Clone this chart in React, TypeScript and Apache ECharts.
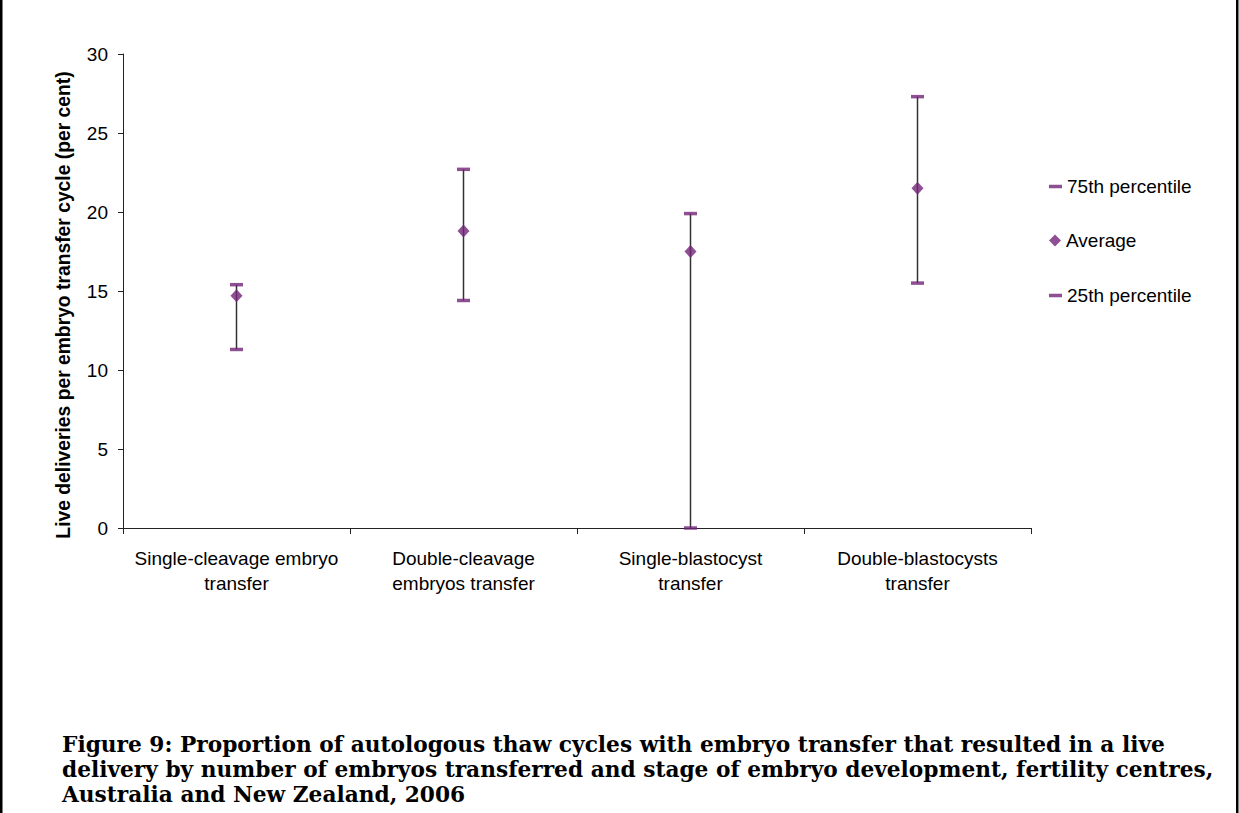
import React, { useEffect, useRef } from "react";
import * as echarts from "echarts";

const categories = [
  "Single-cleavage embryo\ntransfer",
  "Double-cleavage\nembryos transfer",
  "Single-blastocyst\ntransfer",
  "Double-blastocysts\ntransfer",
];
const p75 = [15.4, 22.7, 19.9, 27.3];
const average = [14.7, 18.8, 17.5, 21.5];
const p25 = [11.3, 14.4, 0.0, 15.5];
const yTicks = { min: 0, max: 30, interval: 5 };
const yAxisName = "Live deliveries per embryo transfer cycle (per cent)";

const titleLines = [
  "Figure 9: Proportion of autologous thaw cycles with embryo transfer that resulted in a live",
  "delivery by number of embryos transferred and stage of embryo development, fertility centres,",
  "Australia and New Zealand, 2006",
];

const PURPLE = "#722478";
const SANS = "'Liberation Sans', Arial, sans-serif";
const SERIF = "'DejaVu Serif', serif";

export default function App() {
  const ref = useRef<HTMLDivElement>(null);
  useEffect(() => {
    if (!ref.current) return;
    const chart = echarts.init(ref.current, null, { renderer: "svg" });
    const legendText = { fontFamily: SANS, fontSize: 19, color: "#000" };
    chart.setOption({
      animation: false,
      backgroundColor: "#fff",
      grid: { left: 123, right: 208, top: 54, bottom: 813 - 528, containLabel: false },
      title: {
        text: titleLines.join("\n"),
        left: 62,
        top: 732,
        padding: 0,
        textStyle: { fontFamily: SERIF, fontWeight: "bold", fontSize: 21.7, lineHeight: 25, color: "#000" },
      },
      legend: [
        {
          data: ["75th percentile"], left: 1049, top: 177, icon: "rect", padding: 0,
          itemWidth: 13, itemHeight: 3.5, textStyle: legendText, selectedMode: false,
        },
        {
          data: ["Average"], left: 1049, top: 231, icon: "diamond", padding: 0,
          itemWidth: 12, itemHeight: 12, textStyle: legendText, selectedMode: false,
        },
        {
          data: ["25th percentile"], left: 1049, top: 286, icon: "rect", padding: 0,
          itemWidth: 13, itemHeight: 3.5, textStyle: legendText, selectedMode: false,
        },
      ],
      xAxis: {
        type: "category",
        data: categories,
        boundaryGap: true,
        axisLine: { lineStyle: { color: "#222", width: 1 } },
        axisTick: { show: true, length: 6, lineStyle: { color: "#222" } },
        axisLabel: { fontFamily: SANS, fontSize: 19, color: "#000", lineHeight: 25, margin: 18, interval: 0 },
      },
      yAxis: {
        type: "value",
        min: yTicks.min,
        max: yTicks.max,
        interval: yTicks.interval,
        axisLine: { show: true, lineStyle: { color: "#222", width: 1 } },
        axisTick: { show: true, length: 5, lineStyle: { color: "#222" } },
        splitLine: { show: false },
        axisLabel: { fontFamily: SANS, fontSize: 19, color: "#000", margin: 15 },
      },
      graphic: [
        { type: "rect", shape: { x: 0, y: 0, width: 2.5, height: 813 }, style: { fill: "#000" } },
        { type: "rect", shape: { x: 1236, y: 0, width: 2.5, height: 813 }, style: { fill: "#000" } },
        {
          type: "text",
          x: 63,
          y: 305,
          rotation: Math.PI / 2,
          style: {
            text: yAxisName,
            fontFamily: SANS,
            fontSize: 19.3,
            fontWeight: "bold",
            fill: "#000",
            align: "center",
            verticalAlign: "middle",
          },
        },
      ],
      series: [
        {
          type: "custom",
          name: "range",
          z: 1,
          encode: { x: 0, y: [1, 2] },
          data: categories.map((_, i) => [i, p25[i], p75[i]]),
          renderItem: (params: any, api: any) => {
            const i = api.value(0);
            const lo = api.coord([i, api.value(1)]);
            const hi = api.coord([i, api.value(2)]);
            return {
              type: "line",
              shape: { x1: lo[0], y1: lo[1], x2: hi[0], y2: hi[1] },
              style: { stroke: "#333", lineWidth: 1.5 },
            };
          },
        },
        {
          type: "scatter", name: "75th percentile", z: 3, symbol: "rect",
          symbolSize: [13, 3.5], itemStyle: { color: PURPLE }, data: p75,
        },
        {
          type: "scatter", name: "Average", z: 3, symbol: "diamond",
          symbolSize: [12, 13], itemStyle: { color: PURPLE }, data: average,
        },
        {
          type: "scatter", name: "25th percentile", z: 3, symbol: "rect",
          symbolSize: [13, 3.5], itemStyle: { color: PURPLE }, data: p25,
        },
      ],
    });
    return () => chart.dispose();
  }, []);
  return (
    <div
      ref={ref}
      style={{ position: "fixed", left: 0, top: 0, width: 1239, height: 813, background: "#fff" }}
    />
  );
}
